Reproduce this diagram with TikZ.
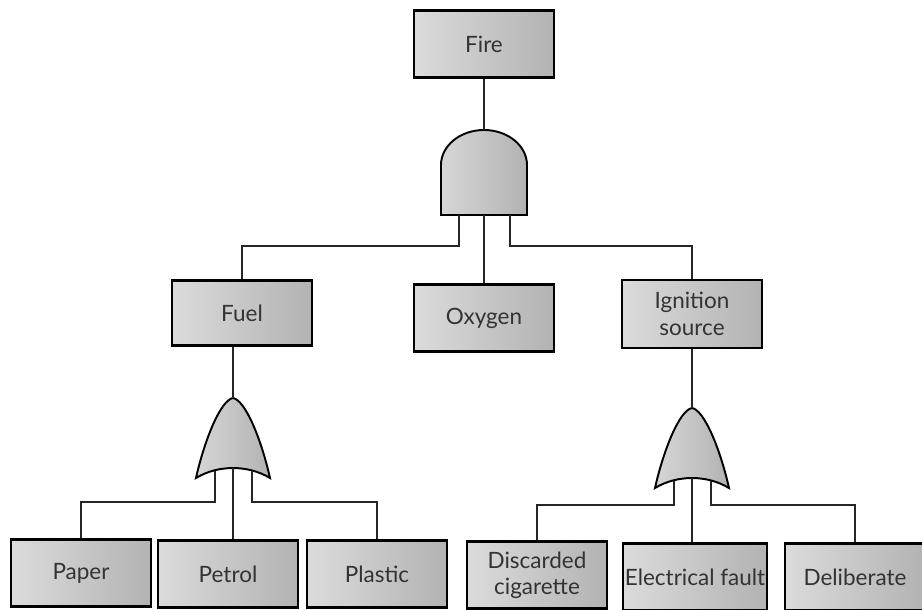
\documentclass[tikz,border=0pt]{standalone}
\usepackage{fontspec}
\setmainfont{Lato}
\usepackage{tikz}
\usetikzlibrary{calc}
\tikzset{event/.style={draw, line width=1.3pt, left color=black!14, right color=black!30, text=black!80, minimum width=2.8cm, minimum height=1.34cm, inner sep=1pt, align=center, font=\fontsize{12.8}{15}\selectfont}}
\tikzset{gate/.style={draw, line width=1.1pt, left color=black!16, right color=black!30}}
\tikzset{wire/.style={line width=1pt, black!85}}

\begin{document}
\begin{tikzpicture}[x=0.02cm, y=0.02cm]
\useasboundingbox (0,0) rectangle (922,609);
\clip (0,0) rectangle (922,609);

\node[event] (fire) at (484,565) {Fire};
\node[event, minimum height=1.3cm] (fuel) at (242,296) {Fuel};
\node[event] (oxygen) at (484,291) {Oxygen};
\node[event, minimum height=1.36cm] (ignition) at (692,295) {Ignition\\source};

% And gate
\path[gate] (441,394) -- (441,444) arc[start angle=180, end angle=0, x radius=0.86cm, y radius=0.7cm] -- (527,394) -- cycle;
\coordinate (andtop) at (484,479);
\coordinate (and1) at (459,394);
\coordinate (and2) at (484,394);
\coordinate (and3) at (510,394);

% Or gates
	\foreach \g/\x/\y in {orF/233/131, orI/692/121}
	{
		\path[gate] (\x-37,\y) .. controls (\x-28,\y+40) and (\x-12,\y+78) .. (\x,\y+80) .. controls (\x+12,\y+78) and (\x+28,\y+40) .. (\x+37,\y) .. controls (\x+15,\y+13.3) and (\x-15,\y+13.3) .. cycle;
		\coordinate (\g top) at (\x,\y+80);
		\coordinate (\g1) at (\x-18,\y+7);
		\coordinate (\g2) at (\x,\y+10);
		\coordinate (\g3) at (\x+19,\y+7);
	}

% Leaves
	\foreach \n/\x/\y/\t in {paper/81/36/Paper, petrol/228/35/Petrol, plastic/377/35/Plastic, cigarette/537/34/{Discarded\\cigarette}, fault/695/32/Electrical fault, deliberate/855/32/Deliberate}
		\node[event, minimum height=1.34cm] (\n) at (\x,\y) {\t};

% Wires
\draw[wire] (fire) -- (andtop);
\draw[wire] (and1) -- ++(0,-31) -| (fuel.north);
\draw[wire] (and2) -- (oxygen.north);
\draw[wire] (and3) -- ++(0,-31) -| (ignition.north);

\draw[wire] (orFtop) -- (orFtop |- fuel.south);
\draw[wire] (orF1) -- ++(0,-31) -| (paper.north);
\draw[wire] (orF2) -- (orF2 |- petrol.north);
\draw[wire] (orF3) -- ++(0,-31) -| (plastic.north);

\draw[wire] (orItop) -- (orItop |- ignition.south);
\draw[wire] (orI1) -- ++(0,-24) -| (cigarette.north);
\draw[wire] (orI2) -- (orI2 |- fault.north);
\draw[wire] (orI3) -- ++(0,-24) -| (deliberate.north);

\end{tikzpicture}
\end{document}
